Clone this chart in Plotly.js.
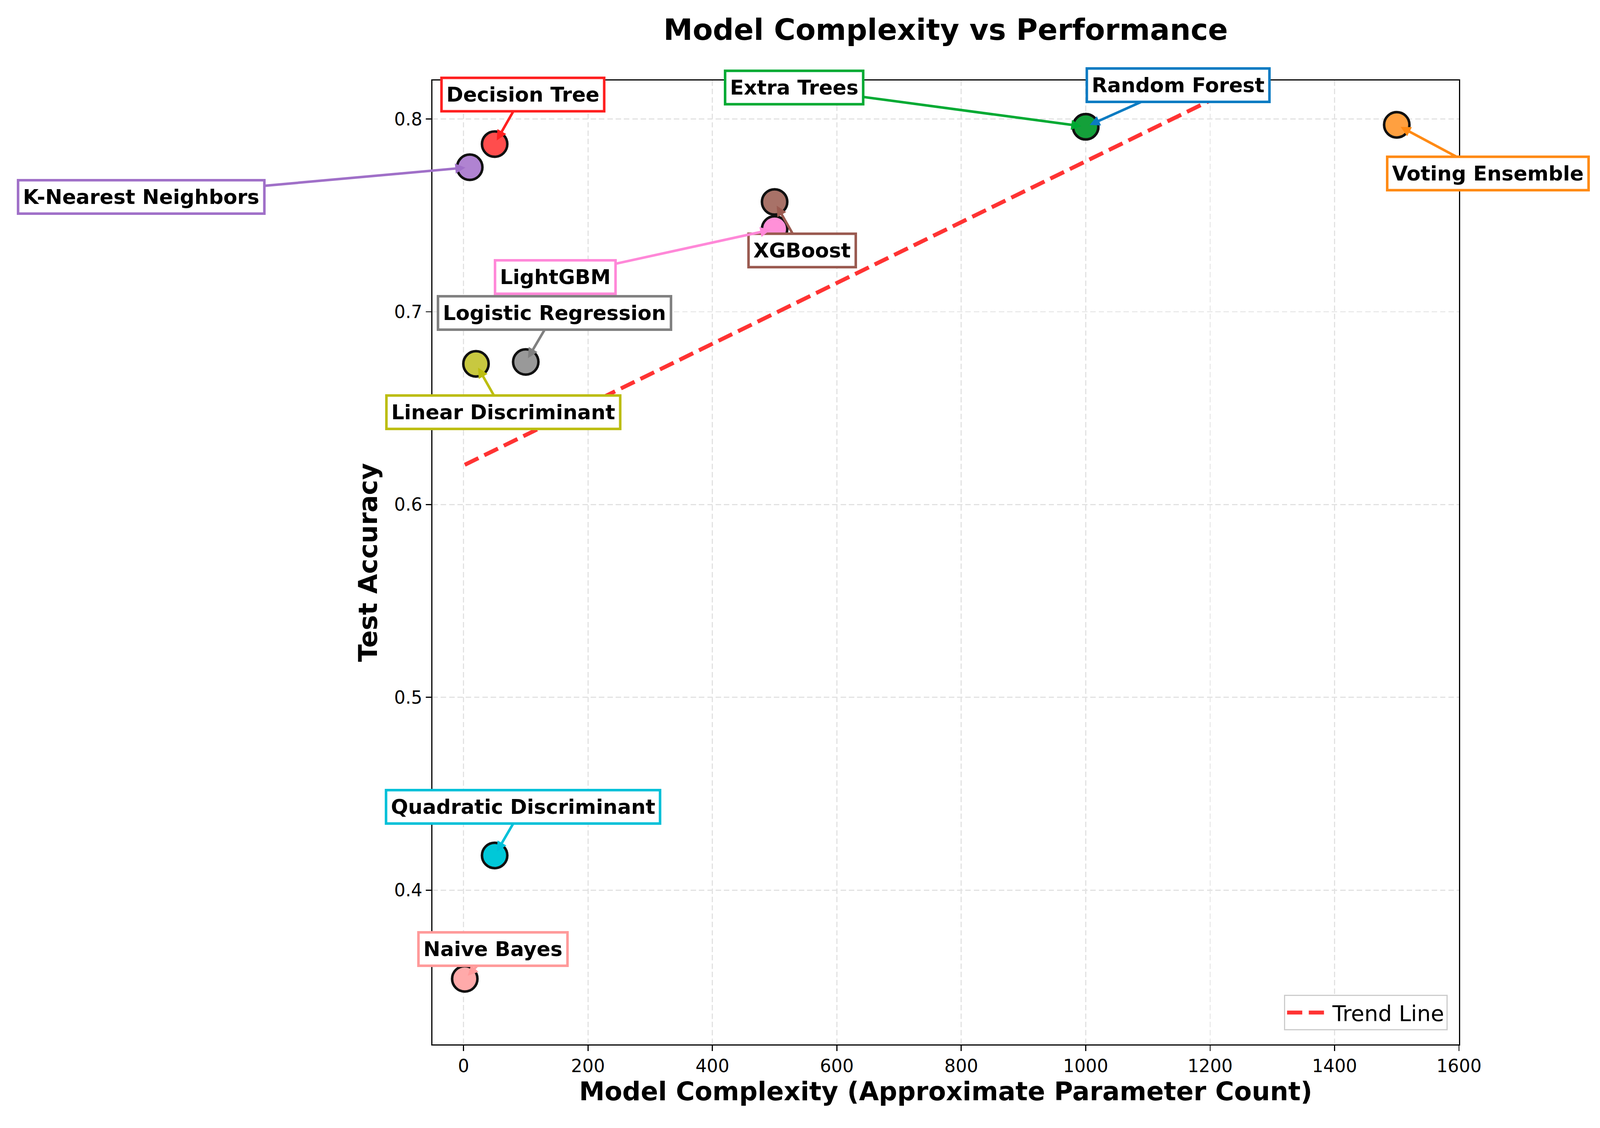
<!DOCTYPE html>
<html>
<head>
<meta charset="utf-8">
<script src="https://cdn.plot.ly/plotly-3.0.1.min.js"></script>
<style>
  html, body { margin: 0; padding: 0; background: #ffffff; overflow: hidden; }
  #chart { position: absolute; left: 0; top: 0; }
</style>
</head>
<body>
<div id="chart"></div>
<script>
// ---- data ----
const models = [
  "Random Forest", "Extra Trees", "Voting Ensemble", "XGBoost", "LightGBM",
  "Decision Tree", "K-Nearest Neighbors", "Logistic Regression",
  "Linear Discriminant", "Quadratic Discriminant", "Naive Bayes"
];
const complexity = [1000, 1000, 1500, 500, 500, 50, 10, 100, 20, 50, 2];
const accuracy   = [0.796, 0.796, 0.797, 0.757, 0.743, 0.787, 0.775, 0.674, 0.673, 0.418, 0.354];

// ---- styles (not data) ----
const edgeColors = ["#0a7bc2", "#00aa33", "#ff8a14", "#9a5a50", "#ff88d8",
                    "#ff2020", "#a070c8", "#808080", "#bcbd10", "#00c0d8", "#ff9a9a"];
const fillColors = ["#3a8fc8", "#14a03a", "#ffa040", "#a87268", "#ff90d8",
                    "#ff4d4d", "#b083d1", "#999999", "#c8c840", "#00c8d8", "#ffaaaa"];
// label box offsets (reference pixels) from each point
const labelDX = [255, -805, 252, 76, -606, 78, -907, 79, 76, 78, 78];
const labelDY = [-106, -100, 125, 124, 123, -127, 76, -125, 124, -124, -76];

// ---- trend line: least-squares fit of the data ----
const n = complexity.length;
const mx = complexity.reduce((a, b) => a + b, 0) / n;
const my = accuracy.reduce((a, b) => a + b, 0) / n;
let sxy = 0, sxx = 0;
for (let i = 0; i < n; i++) {
  sxy += (complexity[i] - mx) * (accuracy[i] - my);
  sxx += (complexity[i] - mx) * (complexity[i] - mx);
}
const slope = sxy / sxx;
const intercept = my - slope * mx;
const trendX = [Math.min(...complexity), Math.max(...complexity)];
const trendY = trendX.map(x => intercept + slope * x);

// ---- fit the real viewport ----
const REF_W = 4419, REF_H = 2887;
const vw = window.innerWidth || REF_W, vh = window.innerHeight || REF_H;
const sx = vw / REF_W, sy = vh / REF_H;
const s = sx;                      // sizes (fonts, strokes)
const PX = v => v * sx, PY = v => v * sy, P = v => v * s;
const el = document.getElementById("chart");
el.style.width = vw + "px"; el.style.height = vh + "px";

const FONT = "DejaVu Sans";

const trend = {
  x: trendX, y: trendY, type: "scatter", mode: "lines",
  name: "Trend Line",
  line: { color: "#ff3333", width: P(11), dash: P(42) + "px," + P(18) + "px" },
  showlegend: true
};

const points = {
  x: complexity, y: accuracy, type: "scatter", mode: "markers",
  text: models, showlegend: false,
  marker: { size: P(70), color: fillColors, line: { color: "#111111", width: P(7) } },
  cliponaxis: false
};

const annotations = models.map((m, i) => ({
  x: complexity[i], y: accuracy[i], xref: "x", yref: "y",
  text: "<b>" + m + "</b>",
  showarrow: true, ax: PX(labelDX[i]), ay: PY(labelDY[i]),
  arrowcolor: edgeColors[i], arrowwidth: P(7), arrowhead: 2, arrowsize: 0.8,
  standoff: P(12),
  font: { family: FONT, size: P(56), color: "#000000" },
  bgcolor: "#ffffff", bordercolor: edgeColors[i], borderwidth: P(7), borderpad: P(10)
}));

const axisCommon = {
  showline: true, linecolor: "#000000", linewidth: P(3), mirror: true,
  ticks: "outside", ticklen: P(15), tickwidth: P(3), tickcolor: "#000000",
  tickfont: { family: FONT, size: P(49), color: "#000000" },
  showgrid: true, gridcolor: "#e2e2e2", gridwidth: P(3),
  griddash: P(15) + "px," + P(8) + "px",
  zeroline: false, automargin: false
};

const layout = {
  width: vw, height: vh,
  paper_bgcolor: "#ffffff", plot_bgcolor: "#ffffff",
  margin: { l: PX(1194), r: PX(389), t: PY(206), b: PY(214), pad: 0 },
  font: { family: FONT, color: "#000000" },
  title: {
    text: "<b>Model Complexity vs Performance</b>",
    font: { family: FONT, size: P(81), color: "#000000" },
    x: 0.5, xref: "paper", xanchor: "center",
    y: 1 - 76 / REF_H, yref: "container", yanchor: "middle"
  },
  xaxis: Object.assign({}, axisCommon, {
    range: [-50, 1600], dtick: 200, tick0: 0,
    title: { text: "<b>Model Complexity (Approximate Parameter Count)</b>",
             font: { family: FONT, size: P(71), color: "#000000" }, standoff: PY(14) }
  }),
  yaxis: Object.assign({}, axisCommon, {
    range: [0.32, 0.82], dtick: 0.1, tick0: 0.4, tickformat: ".1f",
    title: { text: "<b>Test Accuracy</b>",
             font: { family: FONT, size: P(71), color: "#000000" }, standoff: PX(24) }
  }),
  showlegend: true,
  legend: {
    x: 0.989, y: 0.0146, xanchor: "right", yanchor: "bottom",
    bgcolor: "#ffffff", bordercolor: "#cccccc", borderwidth: P(3),
    font: { family: FONT, size: P(60), color: "#000000" },
    itemwidth: Math.max(30, P(120))
  },
  annotations: annotations
};

Plotly.newPlot("chart", [trend, points], layout, { displayModeBar: false, staticPlot: true });
</script>
</body>
</html>
